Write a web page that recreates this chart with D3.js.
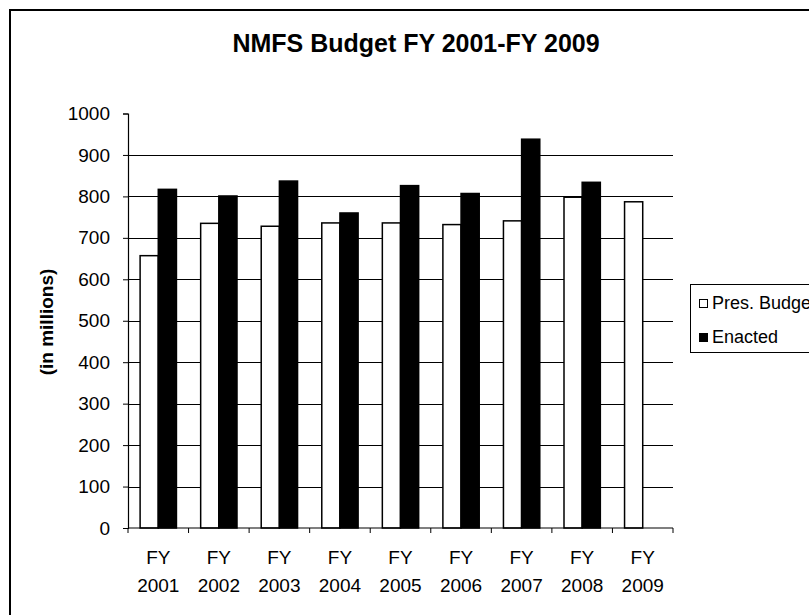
<!DOCTYPE html>
<html>
<head>
<meta charset="utf-8">
<script src="https://cdn.jsdelivr.net/npm/d3@7"></script>
<style>
  html, body { margin: 0; padding: 0; background: #fff; }
  svg { display: block; }
  text { font-family: "Liberation Sans", Arial, sans-serif; fill: #000; }
</style>
</head>
<body>
<svg id="chart" width="809" height="615"></svg>
<script>
const categories = ["2001", "2002", "2003", "2004", "2005", "2006", "2007", "2008", "2009"];
const seriesNames = ["Pres. Budget", "Enacted"];
const presBudget = [657, 735, 728, 736, 736, 732, 741, 798, 787];
const enacted = [817, 801, 837, 760, 826, 807, 938, 834, null];
const yTicks = [0, 100, 200, 300, 400, 500, 600, 700, 800, 900, 1000];
const titleText = "NMFS Budget FY 2001-FY 2009";
const yLabel = "(in millions)";

const svg = d3.select("#chart");
const W = 809, H = 615;
const plot = { left: 128, right: 673, top: 113.5, bottom: 528 };

// outer frame
svg.append("rect").attr("x", 10).attr("y", 10).attr("width", W + 20).attr("height", H + 20)
  .attr("fill", "#fff").attr("stroke", "#000").attr("stroke-width", 2);

const x0 = d3.scaleBand().domain(categories).range([plot.left, plot.right])
  .paddingInner(0.4).paddingOuter(0.2);
const x1 = d3.scaleBand().domain(seriesNames).range([0, x0.bandwidth()]).padding(0);
const y = d3.scaleLinear().domain([0, 1000]).range([plot.bottom, plot.top]);

// gridlines (not at 0 or 1000)
svg.append("g").selectAll("line").data(yTicks.filter(v => v > 0 && v < 1000)).join("line")
  .attr("x1", plot.left).attr("x2", plot.right)
  .attr("y1", d => Math.round(y(d)) + 0.5).attr("y2", d => Math.round(y(d)) + 0.5)
  .attr("stroke", "#000").attr("stroke-width", 1);

// bars
const data = categories.map((c, i) => ({ cat: c, vals: [
  { s: seriesNames[0], v: presBudget[i] }, { s: seriesNames[1], v: enacted[i] } ] }));
const g = svg.append("g").selectAll("g").data(data).join("g")
  .attr("transform", d => `translate(${x0(d.cat)},0)`);
g.selectAll("rect").data(d => d.vals.filter(e => e.v != null)).join("rect")
  .attr("x", d => x1(d.s)).attr("width", x1.bandwidth())
  .attr("y", d => y(d.v)).attr("height", d => y(0) - y(d.v))
  .attr("fill", d => d.s === seriesNames[0] ? "#fff" : "#000")
  .attr("stroke", "#000").attr("stroke-width", 1.5);

// y axis
const yAxis = d3.axisLeft(y).tickValues(yTicks).tickFormat(d3.format("d")).tickSize(5).tickPadding(13);
const ya = svg.append("g").attr("transform", `translate(${plot.left},0)`).call(yAxis);
ya.select(".domain").attr("stroke", "#000").attr("stroke-width", 1.2);
ya.selectAll(".tick line").attr("stroke", "#000");
ya.selectAll("text").attr("font-size", 19).attr("font-family", "Liberation Sans, Arial, sans-serif").attr("fill", "#000");

// x axis
const xa = svg.append("g").attr("transform", `translate(0,${plot.bottom})`);
xa.append("line").attr("x1", plot.left).attr("x2", plot.right).attr("y1", 0).attr("y2", 0)
  .attr("stroke", "#000").attr("stroke-width", 1.2);
const step = x0.step();
const bounds = categories.map(c => x0(c) - x0.paddingInner() * step / 2).concat([plot.right]);
xa.selectAll("line.tk").data(bounds).join("line").attr("class", "tk")
  .attr("x1", d => d).attr("x2", d => d).attr("y1", 0).attr("y2", 5)
  .attr("stroke", "#000");
const xl = xa.selectAll("text.lab").data(categories).join("text").attr("class", "lab")
  .attr("text-anchor", "middle").attr("font-size", 19)
  .attr("x", d => x0(d) + x0.bandwidth() / 2);
xl.append("tspan").attr("x", d => x0(d) + x0.bandwidth() / 2).attr("y", 36).text("FY");
xl.append("tspan").attr("x", d => x0(d) + x0.bandwidth() / 2).attr("y", 64).text(d => d);

// title
svg.append("text").attr("x", 416).attr("y", 52).attr("text-anchor", "middle")
  .attr("font-size", 25).attr("font-weight", "bold").text(titleText);

// y label
svg.append("text").attr("transform", "translate(53,322) rotate(-90)")
  .attr("text-anchor", "middle").attr("font-size", 19).attr("font-weight", "bold").text(yLabel);

// legend
const lg = svg.append("g");
lg.append("rect").attr("x", 690.5).attr("y", 284.5).attr("width", 160).attr("height", 68)
  .attr("fill", "#fff").attr("stroke", "#000").attr("stroke-width", 1);
const items = [{ s: seriesNames[0], fill: "#fff", ty: 309 }, { s: seriesNames[1], fill: "#000", ty: 343 }];
items.forEach(it => {
  lg.append("rect").attr("x", 699.5).attr("y", it.ty - 9.5).attr("width", 8).attr("height", 8)
    .attr("fill", it.fill).attr("stroke", "#000").attr("stroke-width", 1);
  lg.append("text").attr("x", 712).attr("y", it.ty).attr("font-size", 18).text(it.s);
});
</script>
</body>
</html>
